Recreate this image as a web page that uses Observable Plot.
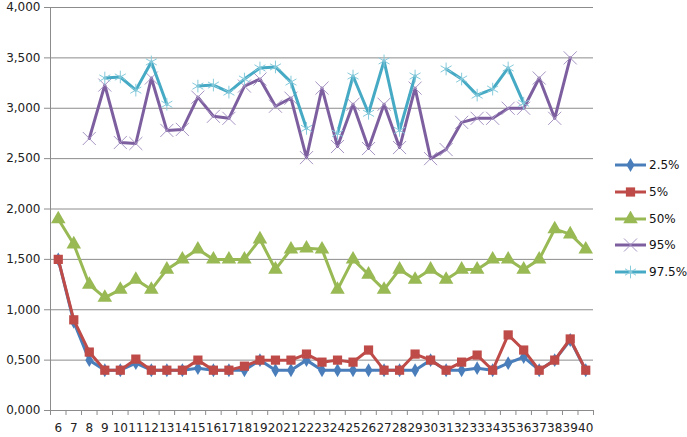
<!DOCTYPE html>
<html><head><meta charset="utf-8">
<script src="https://cdn.jsdelivr.net/npm/d3@7"></script>
<script src="https://cdn.jsdelivr.net/npm/@observablehq/plot@0.6"></script>
<style>
body{margin:0;background:#fff;}
#wrap{position:relative;width:687px;height:437px;font-family:"DejaVu Sans",sans-serif;}
#legend{position:absolute;left:615px;top:0;width:72px;height:437px;}
.li{position:absolute;left:0;height:16px;display:flex;align-items:center;font-size:12px;color:#111;white-space:nowrap;}
.li svg{margin-right:3px;}
</style></head><body><div id="wrap"></div>
<script>
const categories = [6,7,8,9,10,11,12,13,14,15,16,17,18,19,20,21,22,23,24,25,26,27,28,29,30,31,32,33,34,35,36,37,38,39,40];
const p025 = [1500,880,500,400,400,470,400,400,400,420,400,400,400,500,400,400,500,400,400,400,400,400,400,400,500,400,400,420,400,470,530,400,500,700,400];
const p05  = [1500,900,580,400,400,510,400,400,400,500,400,400,440,500,500,500,560,480,500,480,600,400,400,560,500,400,480,550,400,750,600,400,500,710,400];
const p50  = [1900,1650,1250,1120,1200,1300,1200,1400,1500,1600,1500,1500,1500,1700,1400,1600,1610,1600,1200,1500,1350,1200,1400,1300,1400,1300,1400,1400,1500,1500,1400,1500,1800,1750,1600];
const p95  = [null,null,2700,3230,2660,2650,3300,2780,2790,3110,2920,2900,3220,3290,3020,3100,2510,3200,2620,3040,2600,3040,2610,3200,2500,2590,2860,2900,2900,3000,3000,3300,2900,3500,null];
const p975 = [null,null,null,3300,3310,3180,3460,3040,null,3220,3230,3160,3290,3400,3410,3260,2800,null,2750,3320,2950,3470,2780,3320,null,3390,3290,3130,3190,3400,3050,null,null,null,null];
const seriesNames = ["2.5%","5%","50%","95%","97.5%"];
const yTicks = [0,500,1000,1500,2000,2500,3000,3500,4000];

const styles = {
  "2.5%":  {line:"#4A7EBB", symbol:"diamond",  r:4.2, fill:"#4A7EBB", stroke:"none", sw:0},
  "5%":    {line:"#BE4B48", symbol:"square",   r:5.2, fill:"#BE4B48", stroke:"none", sw:0},
  "50%":   {line:"#98B954", symbol:"triangle", r:5.4, fill:"#98B954", stroke:"none", sw:0},
  "95%":   {line:"#7D5FA0", symbol:"times",    r:6,   fill:"none",    stroke:"#A895C4", sw:1},
  "97.5%": {line:"#46AAC5", symbol:"asterisk", r:6,   fill:"none",    stroke:"#86CADB", sw:1}
};
const valuesBy = {"2.5%":p025,"5%":p05,"50%":p50,"95%":p95,"97.5%":p975};

const rows = seriesNames.flatMap(s => categories.map((c,i) => ({cat:c, value:valuesBy[s][i], series:s})));

const xDomain = [categories[0]-0.5, categories[categories.length-1]+0.5];
const boundaries = d3.range(xDomain[0], xDomain[1]+0.01, 1);
const fmt = d => `${Math.floor(d/1000)},${String(d%1000).padStart(3,"0")}`;

const marks = [
  Plot.gridY(yTicks, {stroke:"#8C8C8C", strokeOpacity:1, strokeWidth:1}),
  Plot.ruleX([xDomain[0]], {stroke:"#8C8C8C", strokeWidth:1}),
  Plot.axisY({ticks:yTicks, tickFormat:fmt, tickSize:6, tickPadding:4, stroke:"#8C8C8C", fontSize:12, fill:"#222", label:null}),
  Plot.axisX({ticks:boundaries, tickFormat:() => "", tickSize:5, stroke:"#8C8C8C", label:null}),
  Plot.axisX({ticks:categories, tickFormat:d => String(d), tickSize:0, tickPadding:13, fontSize:12, fill:"#222", label:null})
];
for (const s of seriesNames) {
  const st = styles[s];
  const data = rows.filter(d => d.series === s);
  marks.push(Plot.line(data, {x:"cat", y:"value", stroke:st.line, strokeWidth:3, curve:"linear"}));
  marks.push(Plot.dot(data.filter(d => d.value != null), {x:"cat", y:"value", symbol:()=>st.symbol, r:st.r, fill:st.fill, stroke:st.stroke, strokeWidth:st.sw}));
}

const chart = Plot.plot({
  width:687, height:437,
  marginLeft:50, marginRight:94, marginTop:7, marginBottom:27,
  style:{fontFamily:"DejaVu Sans, sans-serif", fontSize:"12px", background:"#fff"},
  x:{type:"linear", domain:xDomain, axis:null, label:null},
  y:{domain:[0,4000], axis:null, label:null},
  symbol:{type:"identity"},
  marks
});
const wrap = document.getElementById("wrap");
wrap.appendChild(chart);

// legend
const legend = document.createElement("div");
legend.id = "legend";
const symMap = {diamond:d3.symbolDiamond, square:d3.symbolSquare, triangle:d3.symbolTriangle, times:d3.symbolTimes, asterisk:d3.symbolAsterisk};
const legendTop = 157, legendStep = 26.8;
seriesNames.forEach((s,i) => {
  const st = styles[s];
  const item = document.createElement("div");
  item.className = "li";
  item.style.top = (legendTop + i*legendStep) + "px";
  const path = d3.symbol().type(symMap[st.symbol]).size(Math.PI*st.r*st.r)();
  item.innerHTML = `<svg width="31" height="16"><line x1="0" x2="31" y1="8" y2="8" stroke="${st.line}" stroke-width="3"/><path transform="translate(15.5,8)" d="${path}" fill="${st.fill}" stroke="${st.stroke}" stroke-width="${st.sw}"/></svg><span>${s}</span>`;
  legend.appendChild(item);
});
wrap.appendChild(legend);
</script></body></html>
